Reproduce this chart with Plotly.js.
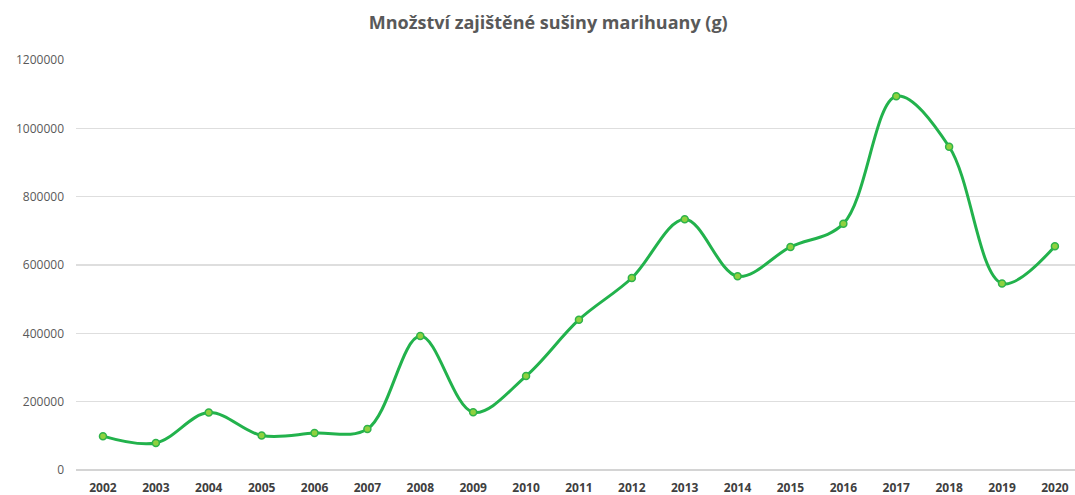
<!DOCTYPE html>
<html>
<head>
<meta charset="utf-8">
<script src="https://cdn.plot.ly/plotly-3.0.1.min.js"></script>
<style>html,body{margin:0;padding:0;background:#fff;}#chart{width:1075px;height:495px;}</style>
</head>
<body>
<div id="chart"></div>
<script>
const years = ['2002','2003','2004','2005','2006','2007','2008','2009','2010','2011','2012','2013','2014','2015','2016','2017','2018','2019','2020'];
const amounts = [99000, 79000, 168000, 101000, 108000, 120000, 392000, 169000, 275000, 440000, 562000, 734000, 567000, 653000, 721000, 1094000, 946000, 546000, 655000];
const yTicks = [0, 200000, 400000, 600000, 800000, 1000000, 1200000];
const yTickText = ['0', '200000', '400000', '600000', '800000', '1000000', '1200000'];

const trace = {
  x: years,
  y: amounts,
  type: 'scatter',
  mode: 'lines+markers',
  line: {color: '#22b24c', width: 3, shape: 'spline', smoothing: 1},
  marker: {size: 7, color: '#8fd13f', line: {color: '#2eb34a', width: 1.5}},
  hoverinfo: 'x+y'
};

const layout = {
  width: 1075,
  height: 495,
  margin: {l: 76, r: 0, t: 60, b: 25},
  paper_bgcolor: '#ffffff',
  plot_bgcolor: '#ffffff',
  showlegend: false,
  title: {
    text: '<b>Množství zajištěné sušiny marihuany (g)</b>',
    font: {family: 'Open Sans, sans-serif', size: 18, color: '#595959'},
    x: 0.51, xanchor: 'center', y: 0.955, yanchor: 'middle'
  },
  xaxis: {
    type: 'category',
    range: [-0.51, 18.38],
    showgrid: false,
    zeroline: false,
    showline: false,
    ticks: '',
    ticklabelstandoff: 9,
    tickfont: {family: 'Open Sans, sans-serif', size: 12, color: '#404040', weight: 'bold'}
  },
  yaxis: {
    range: [0, 1200000],
    tickvals: yTicks,
    ticktext: yTickText,
    showgrid: true,
    gridcolor: '#dedede',
    gridwidth: 1.5,
    zeroline: true,
    zerolinecolor: '#d4d4d4',
    zerolinewidth: 1.5,
    showline: false,
    ticks: '',
    ticklabelstandoff: 11,
    tickfont: {family: 'Open Sans, sans-serif', size: 12, color: '#595959'}
  }
};

Plotly.newPlot('chart', [trace], layout, {displayModeBar: false, staticPlot: true});
</script>
</body>
</html>
